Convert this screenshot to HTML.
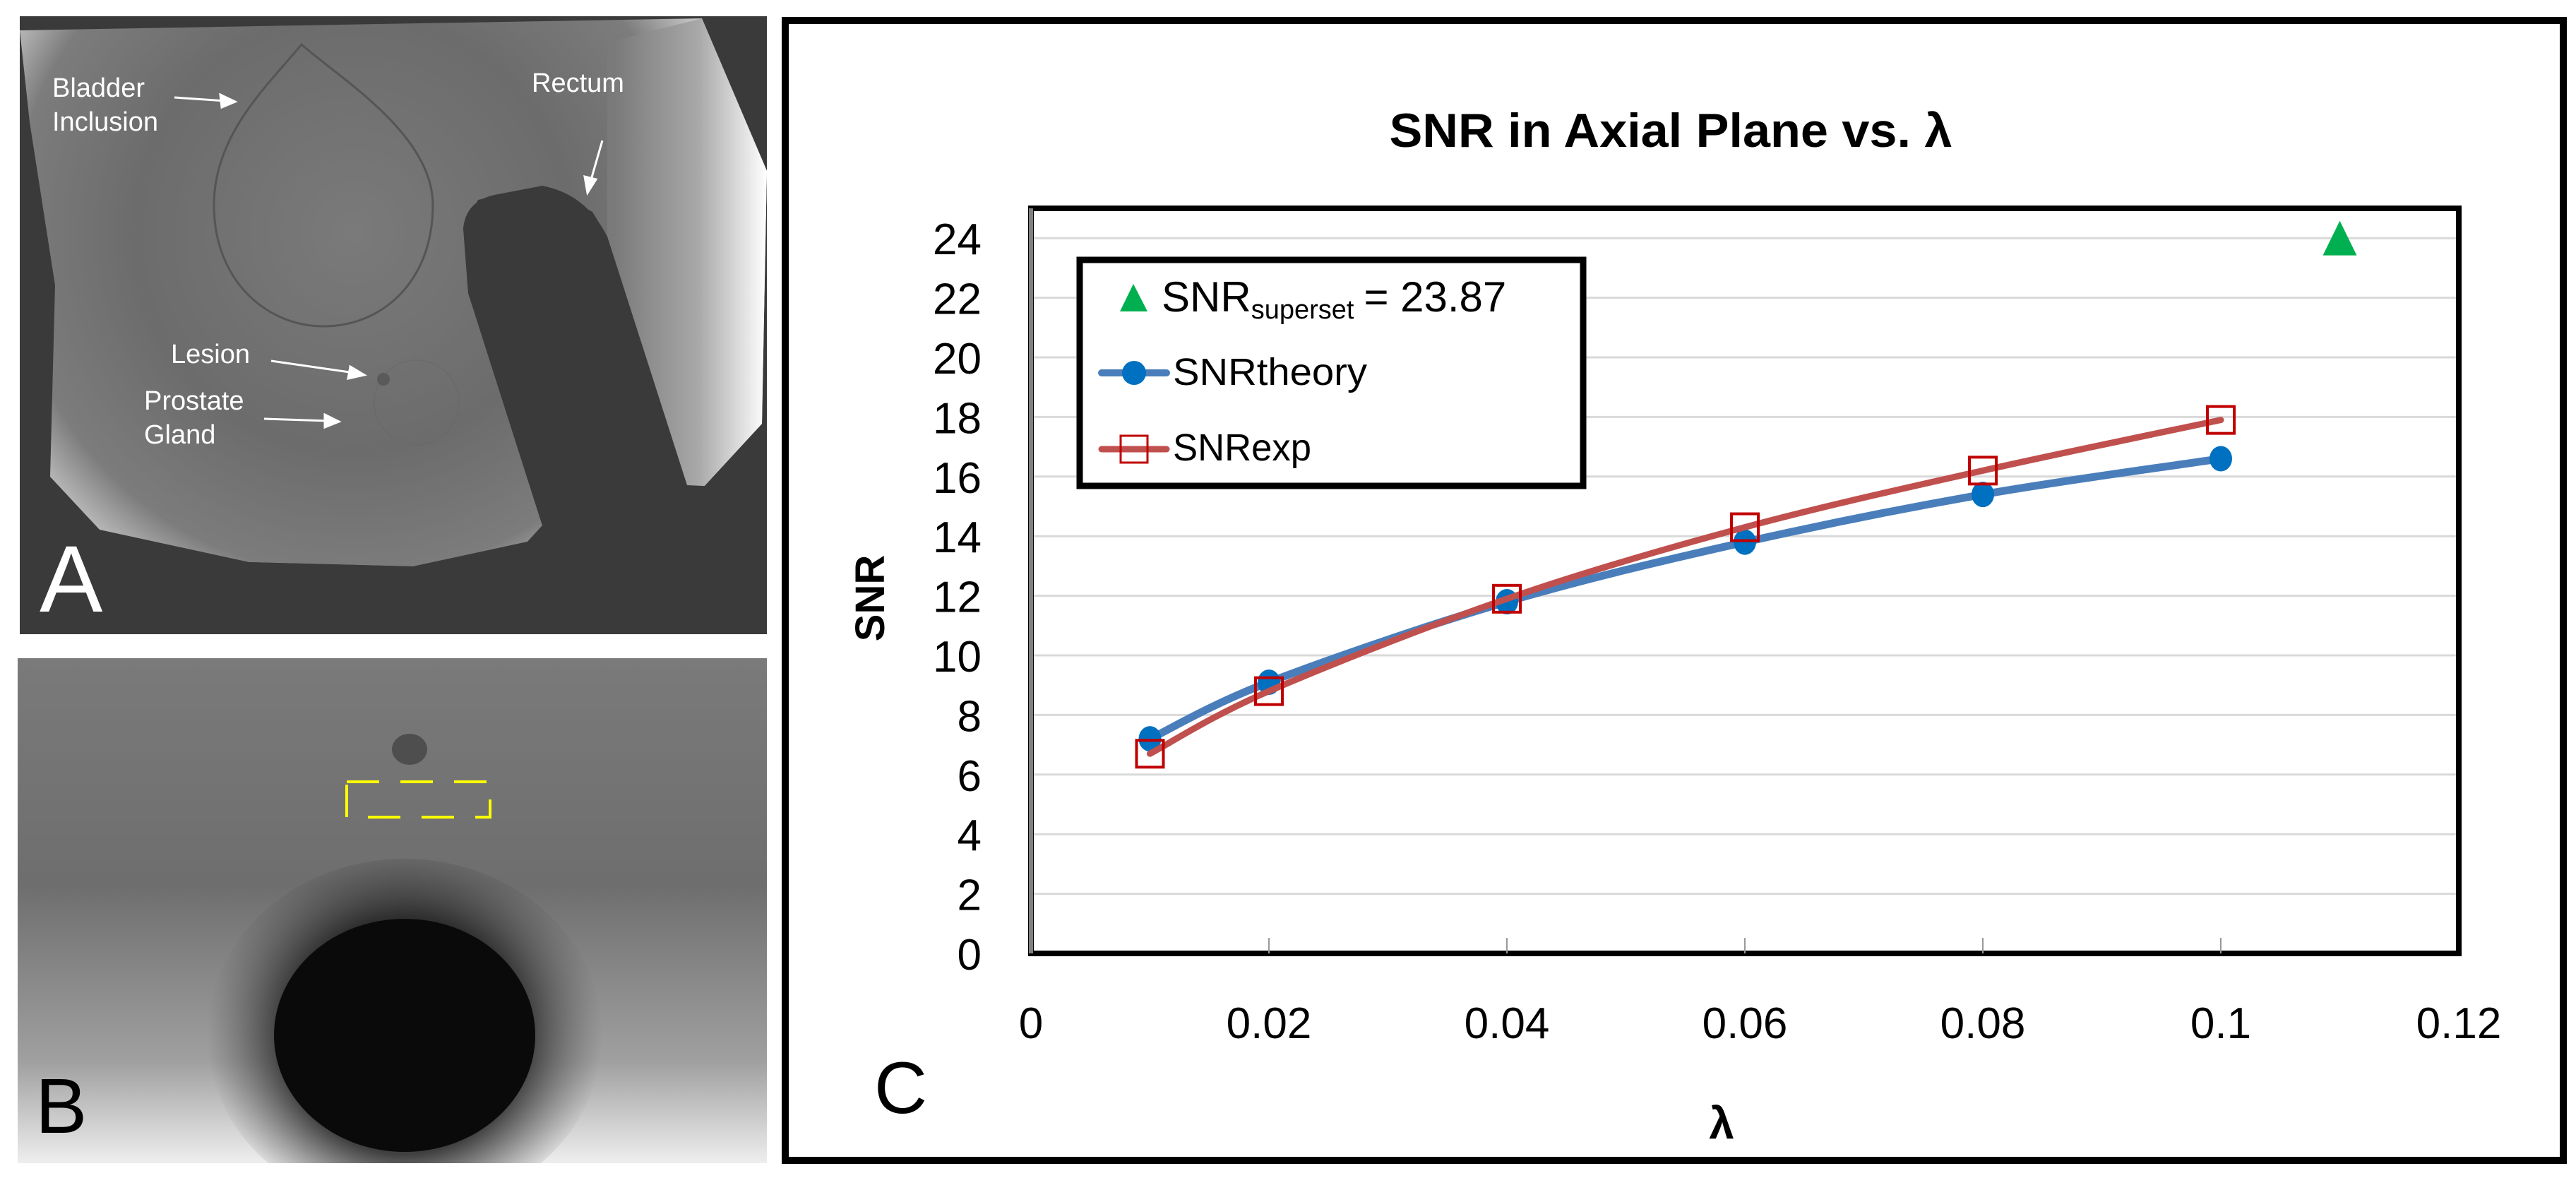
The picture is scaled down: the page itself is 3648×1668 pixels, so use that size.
<!DOCTYPE html>
<html><head><meta charset="utf-8"><style>
html,body{margin:0;padding:0;background:#fff;overflow:hidden;width:3648px;height:1668px;}
svg{display:block;}
text{font-family:"Liberation Sans",sans-serif;}
</style></head><body>
<svg id="fig" width="3648" height="1668" viewBox="0 0 3648 1668" xmlns="http://www.w3.org/2000/svg">
<defs>
<radialGradient id="phg" cx="500" cy="330" r="620" gradientUnits="userSpaceOnUse">
<stop offset="0" stop-color="#7a7a7a"/><stop offset="0.5" stop-color="#6c6c6c"/><stop offset="0.78" stop-color="#7c7c7c"/><stop offset="1" stop-color="#f0f0f0"/></radialGradient>
<linearGradient id="rband" x1="870" y1="0" x2="1086" y2="0" gradientUnits="userSpaceOnUse"><stop offset="0" stop-color="#7a7a7a"/><stop offset="0.55" stop-color="#a8a8a8"/><stop offset="1" stop-color="#ffffff"/></linearGradient>
<linearGradient id="bbg" x1="0" y1="932" x2="0" y2="1647" gradientUnits="userSpaceOnUse"><stop offset="0" stop-color="#7a7a7a"/><stop offset="0.45" stop-color="#6e6e6e"/><stop offset="0.8" stop-color="#a0a0a0"/><stop offset="1" stop-color="#eeeeee"/></linearGradient>
<radialGradient id="halo" cx="573" cy="1466" r="280" gradientUnits="userSpaceOnUse"><stop offset="0.6" stop-color="#222" stop-opacity="0.85"/><stop offset="1" stop-color="#555" stop-opacity="0"/></radialGradient>
<clipPath id="clipA"><rect x="28" y="23" width="1058" height="875"/></clipPath>
<clipPath id="clipB"><rect x="25" y="932" width="1061" height="715"/></clipPath>
</defs>

<!-- Panel A -->
<g clip-path="url(#clipA)">
<rect x="28" y="23" width="1058" height="875" fill="#3a3a3a"/>
<path d="M28,43 L994,26 L1086,242 L1079,600 L994,692 L973,687 L860,335 L839,300 L768,263 L677,283 L656,323 L663,415 L768,744 L747,767 L585,802 L353,796 L141,750 L71,675 L78,404 L42,173 Z" fill="url(#phg)"/>
<path d="M994,26 L1086,242 L1079,600 L994,692 L973,687 L860,335 L860,60 Z" fill="url(#rband)"/>
<path d="M656,323 Q660,285 700,276 L768,263 Q830,275 860,335 L973,687 L1086,692 L1086,898 L28,898 L28,800 L353,796 L585,802 L747,767 L768,744 L663,415 Z" fill="#3a3a3a"/>
<path d="M427,63 C380,120 303,190 303,290 C303,400 380,462 458,462 C540,462 613,400 613,290 C613,190 480,110 427,63 Z" fill="none" stroke="#555" stroke-width="3"/>
<circle cx="590" cy="570" r="60" fill="none" stroke="#666" stroke-width="1.5" opacity="0.5"/>
<circle cx="543" cy="537" r="9" fill="#5a5a5a"/>
<g fill="#fff" font-size="38">
<text x="74" y="137">Bladder</text>
<text x="74" y="185">Inclusion</text>
<text x="753" y="130">Rectum</text>
<text x="242" y="514">Lesion</text>
<text x="204" y="580">Prostate</text>
<text x="204" y="628">Gland</text>
</g>
<g stroke="#fff" stroke-width="3" fill="#fff">
<line x1="247" y1="138" x2="320" y2="143"/><path d="M333,144 L312,134 L314,152 Z"/>
<line x1="853" y1="199" x2="836" y2="258"/><path d="M832,273 L828,250 L844,254 Z"/>
<line x1="384" y1="511" x2="502" y2="528"/><path d="M516,531 L496,519 L493,536 Z"/>
<line x1="374" y1="593" x2="466" y2="596"/><path d="M480,597 L460,587 L460,605 Z"/>
</g>
<text x="56" y="866" fill="#fff" font-size="134">A</text>
</g>

<!-- Panel B -->
<g clip-path="url(#clipB)">
<rect x="25" y="932" width="1061" height="715" fill="url(#bbg)"/>
<ellipse cx="573" cy="1466" rx="280" ry="250" fill="url(#halo)"/>
<ellipse cx="573" cy="1466" rx="185" ry="165" fill="#0a0a0a"/>
<ellipse cx="580" cy="1061" rx="25" ry="22" fill="#4e4e4e"/>
<rect x="491" y="1107" width="203" height="50" fill="none" stroke="#ffff00" stroke-width="4" stroke-dasharray="46,30"/>
<text x="50" y="1604" fill="#000" font-size="110">B</text>
</g>

<!-- Panel C -->
<g>
<rect x="1112" y="29" width="2518" height="1614" fill="#fff" stroke="#000" stroke-width="10"/>
<text x="2366" y="208" text-anchor="middle" font-size="68" font-weight="bold" textLength="797" lengthAdjust="spacingAndGlyphs">SNR in Axial Plane vs. λ</text>
<g id="grid"></g>
<rect x="1460" y="295" width="2022" height="1055" fill="none" stroke="#000" stroke-width="8"/>
<line x1="1460" y1="295" x2="1460" y2="1350" stroke="#808080" stroke-width="6"/>
<g id="yticks"></g>
<g id="xticks"></g>
<text transform="translate(1252,847) rotate(-90)" text-anchor="middle" font-size="58" font-weight="bold">SNR</text>
<text x="2438" y="1612" text-anchor="middle" font-size="64" font-weight="bold">λ</text>
<g id="series"></g>
<g>
<rect x="1529" y="368" width="713" height="320" fill="#fff" stroke="#000" stroke-width="9"/>
<path d="M1605,402 L1625,441 L1586,441 Z" fill="#00b050"/>
<text x="1645" y="441" font-size="60">SNR<tspan font-size="38" dy="10">superset</tspan><tspan dy="-10" dx="14">= 23.87</tspan></text>
<line x1="1560" y1="528" x2="1652" y2="528" stroke="#4a7ebb" stroke-width="10" stroke-linecap="round"/>
<circle cx="1606" cy="528" r="17" fill="#0070c0"/>
<text x="1661" y="545" font-size="54" textLength="275" lengthAdjust="spacingAndGlyphs">SNRtheory</text>
<line x1="1560" y1="636" x2="1652" y2="636" stroke="#c0504d" stroke-width="9" stroke-linecap="round"/>
<rect x="1587" y="617" width="38" height="38" fill="none" stroke="#c00000" stroke-width="3"/>
<text x="1661" y="652" font-size="54" textLength="196" lengthAdjust="spacingAndGlyphs">SNRexp</text>
</g>
<text x="1238" y="1576" font-size="104">C</text>
</g>
</svg>
<script>
const lambdas = [0.01, 0.02, 0.04, 0.06, 0.08, 0.1];
const snrTheory = [7.2, 9.1, 11.8, 13.8, 15.4, 16.6];
const snrExp = [6.7, 8.8, 11.9, 14.3, 16.2, 17.9];
const supersetX = [0.11];
const supersetY = [23.87];
const yTickValues = [0, 2, 4, 6, 8, 10, 12, 14, 16, 18, 20, 22, 24];
const xTickValues = [0, 0.02, 0.04, 0.06, 0.08, 0.1, 0.12];
const xTickLabels = ["0", "0.02", "0.04", "0.06", "0.08", "0.1", "0.12"];

const NS = "http://www.w3.org/2000/svg";
const X0 = 1460, X1 = 3482, XMAX = 0.12;
const Y0 = 1350, YPER = 42.2;
function xs(v){ return X0 + (v / XMAX) * (X1 - X0); }
function ys(v){ return Y0 - v * YPER; }
function mk(tag, attrs, parent){ const e = document.createElementNS(NS, tag); for (const k in attrs) e.setAttribute(k, attrs[k]); parent.appendChild(e); return e; }

const grid = document.getElementById('grid');
const yt = document.getElementById('yticks');
yTickValues.forEach(v => {
  if (v > 0) {
    const g = mk('line', {x1: X0, x2: X1, y1: ys(v), y2: ys(v), stroke: '#d9d9d9', 'stroke-width': 3}, grid);
    
    
  }
  const t = mk('text', {x: 1390, y: ys(v) + 23, 'text-anchor': 'end', 'font-size': 62}, yt);
  t.textContent = String(v);
  
  
});
const xt = document.getElementById('xticks');
xTickValues.forEach((v, i) => {
  const t = mk('text', {x: xs(v), y: 1470, 'text-anchor': 'middle', 'font-size': 62}, xt);
  t.textContent = xTickLabels[i];
  
  
  if (v > 0 && v < XMAX) {
    const tk = mk('line', {x1: xs(v), x2: xs(v), y1: Y0 - 22, y2: Y0, stroke: '#999', 'stroke-width': 2}, xt);
    
    
  }
});

function smoothPath(xv, yv){
  const p = xv.map((x, i) => [xs(x), ys(yv[i])]);
  let d = 'M' + p[0][0] + ',' + p[0][1];
  for (let i = 0; i < p.length - 1; i++) {
    const a = p[i - 1] || p[i], b = p[i], c = p[i + 1], e = p[i + 2] || c;
    const c1x = b[0] + (c[0] - a[0]) / 6, c1y = b[1] + (c[1] - a[1]) / 6;
    const c2x = c[0] - (e[0] - b[0]) / 6, c2y = c[1] - (e[1] - b[1]) / 6;
    d += ' C' + c1x + ',' + c1y + ' ' + c2x + ',' + c2y + ' ' + c[0] + ',' + c[1];
  }
  return d;
}
const ser = document.getElementById('series');
const lt = mk('path', {d: smoothPath(lambdas, snrTheory), fill: 'none', stroke: '#4a7ebb', 'stroke-width': 11, 'stroke-linecap': 'round'}, ser);


lambdas.forEach((x, i) => {
  const c = mk('ellipse', {cx: xs(x), cy: ys(snrTheory[i]), rx: 16, ry: 18, fill: '#0070c0'}, ser);
  
  
});
const le = mk('path', {d: smoothPath(lambdas, snrExp), fill: 'none', stroke: '#c0504d', 'stroke-width': 9, 'stroke-linecap': 'round'}, ser);


lambdas.forEach((x, i) => {
  const r = mk('rect', {x: xs(x) - 19, y: ys(snrExp[i]) - 19, width: 38, height: 38, fill: 'none', stroke: '#c00000', 'stroke-width': 4}, ser);
  
  
});
supersetX.forEach((x, i) => {
  const cx = xs(x), cy = ys(supersetY[i]);
  const tr = mk('path', {d: 'M' + cx + ',' + (cy - 30) + ' L' + (cx + 24) + ',' + (cy + 19) + ' L' + (cx - 24) + ',' + (cy + 19) + ' Z', fill: '#00b050'}, ser);
  
  
});
</script>
</body></html>
